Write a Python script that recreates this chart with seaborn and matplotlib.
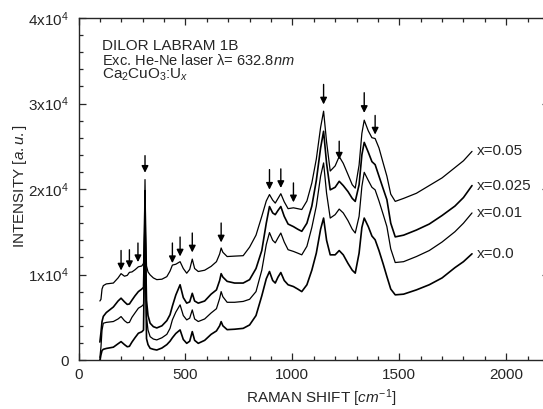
import numpy as np
import pandas as pd
import matplotlib
matplotlib.use("Agg")
import matplotlib.pyplot as plt
from matplotlib.ticker import MultipleLocator
import seaborn as sns

# Raman shift grid [cm^-1] and intensities
shift = [100, 105, 110, 116, 130, 163, 185, 199, 215, 228,
         238, 250, 264, 280, 296, 304, 308, 311, 314, 318,
         325, 335, 350, 366, 390, 413, 428, 439, 455, 475,
         490, 506, 520, 532, 543, 560, 590, 620, 645, 660,
         667, 675, 695, 730, 770, 800, 830, 857, 878, 893,
         908, 920, 933, 946, 962, 980, 1005, 1025, 1044, 1068,
         1091, 1112, 1132, 1146, 1160, 1177, 1200, 1219, 1238, 1260,
         1280, 1294, 1312, 1325, 1336, 1355, 1372, 1387, 1405, 1425,
         1442, 1460, 1481, 1520, 1580, 1640, 1700, 1760, 1800, 1840]

x005 = [6900, 7100, 8300, 8700, 8900, 9000, 9600, 10100, 9800, 9900,
        10250, 10300, 10550, 10900, 11000, 11300, 15000, 21100, 15000, 11000,
        10300, 9950, 9600, 9400, 9450, 9750, 10400, 11100, 11200, 11500,
        10700, 10150, 10600, 11800, 10700, 10350, 10500, 10950, 11500, 12400,
        13100, 12600, 12100, 12150, 12200, 13200, 14600, 16800, 18600, 19350,
        18700, 18350, 18900, 19450, 18500, 17700, 17800, 17700, 17600, 18600,
        20700, 23500, 27200, 29100, 25500, 22100, 22700, 23800, 23000, 21700,
        20500, 20100, 22800, 26500, 28050, 26800, 26000, 25900, 24800, 23000,
        21500, 19400, 18550, 18900, 19500, 20400, 21300, 22500, 23300, 24400]

x0025 = [2100, 3200, 4500, 5100, 5550, 6200, 6900, 7230, 6800, 6500,
         6550, 7000, 7500, 8000, 8300, 8500, 13000, 19800, 12000, 7000,
         5200, 4300, 3900, 3750, 4000, 4600, 5300, 6300, 7600, 8800,
         7300, 6650, 6800, 7800, 6900, 6650, 6900, 7700, 8200, 9300,
         10100, 9700, 9200, 9000, 9000, 9400, 10700, 12800, 16000, 17950,
         17200, 17000, 17500, 17950, 16800, 15900, 15600, 15300, 15050, 16000,
         18000, 21000, 24800, 26750, 23000, 19900, 20200, 20900, 20400, 19700,
         18900, 18550, 20500, 24000, 25450, 24300, 23200, 22850, 21500, 20000,
         18750, 16000, 14400, 14600, 15200, 15900, 16900, 18000, 19000, 20400]

x001 = [300, 1500, 3500, 4300, 4400, 4500, 4800, 5080, 4600, 4350,
        4400, 5000, 5500, 6060, 6300, 6500, 12000, 18800, 11000, 5000,
        3500, 2730, 2450, 2350, 2600, 3000, 3700, 4700, 5600, 6450,
        5200, 4690, 4900, 5860, 4800, 4500, 4800, 5500, 6000, 7200,
        8000, 7400, 6750, 6750, 6850, 7100, 8000, 10500, 13500, 14900,
        14000, 13700, 14300, 14850, 13800, 12900, 12700, 12500, 12300, 13300,
        15500, 18000, 21500, 23050, 19500, 16600, 17000, 17650, 17200, 16300,
        15300, 14850, 16800, 20300, 21950, 21000, 20200, 19900, 18600, 17000,
        15600, 13000, 11400, 11500, 12100, 12800, 13800, 15000, 16000, 17200]

x000 = [0, 600, 1100, 1250, 1350, 1500, 1900, 2150, 1800, 1550,
        1600, 2100, 2600, 3130, 3300, 3500, 11000, 17800, 10000, 2500,
        1800, 1370, 1250, 1170, 1400, 1800, 2200, 2600, 3100, 3520,
        2400, 1950, 2200, 3320, 2300, 1950, 2300, 3000, 3400, 4000,
        4490, 4000, 3550, 3600, 3700, 4100, 5200, 7500, 9500, 10350,
        9300, 9000, 9700, 10230, 9300, 8800, 8590, 8300, 8000, 8800,
        10500, 12500, 15300, 16600, 14000, 12300, 12300, 12800, 12300, 11300,
        10500, 10160, 12500, 15500, 16600, 15600, 14500, 14060, 12800, 11200,
        9760, 8300, 7620, 7700, 8200, 8800, 9600, 10800, 11500, 12420]

series = {"x=0.05": x005, "x=0.025": x0025, "x=0.01": x001, "x=0.0": x000}

# peak markers: position, arrow tip, arrow tail
arrow_pos = [199, 238, 278, 311, 439, 475, 532, 667, 893, 946, 1005, 1146, 1219, 1336, 1387]
arrow_tip = [10470, 10750, 11450, 21900, 11330, 12110, 12580, 13750, 19920, 20120, 18440,
             29890, 23440, 28900, 26370]
arrow_tail = [12810, 12890, 13680, 23900, 13680, 14380, 14850, 16020, 22270, 22350, 20710,
              32230, 25590, 31260, 28600]

sns.set_style("ticks")
plt.rcParams["font.family"] = ["Liberation Sans", "DejaVu Sans"]
plt.rcParams["mathtext.fontset"] = "custom"
plt.rcParams["mathtext.rm"] = "Liberation Sans"
plt.rcParams["mathtext.it"] = "Liberation Sans:italic"
fs = 11

fig = plt.figure(figsize=(5.43, 4.09), dpi=100)
ax = fig.add_axes([78.5 / 543, 1 - 360 / 409, (549 - 78.5) / 543, (360 - 18) / 409])

for name, vals in series.items():
    lw = 1.2 if name in ("x=0.025", "x=0.0") else 0.9
    sns.lineplot(x=shift, y=vals, color="black", lw=lw, ax=ax, estimator=None, sort=False)
    ax.text(shift[-1] + 22, vals[-1], name, ha="left", va="center", fontsize=fs)

for p, t, h in zip(arrow_pos, arrow_tip, arrow_tail):
    ax.annotate("", xy=(p, t), xytext=(p, h),
                arrowprops=dict(arrowstyle="-|>", color="black", lw=1.0,
                                mutation_scale=10, shrinkA=0, shrinkB=0))

ax.set_xlim(0, 2200)
ax.set_ylim(0, 40000)
ax.xaxis.set_major_locator(MultipleLocator(500))
ax.xaxis.set_minor_locator(MultipleLocator(100))
ax.set_yticks([0, 10000, 20000, 30000, 40000])
ax.set_yticklabels(["0", "1x10$^4$", "2x10$^4$", "3x10$^4$", "4x10$^4$"])
ax.yaxis.set_minor_locator(MultipleLocator(2000))
ax.tick_params(which="both", direction="in", top=True, right=True, width=0.9, labelsize=fs)
ax.tick_params(which="major", length=5)
ax.tick_params(which="minor", length=3)
ax.tick_params(axis="y", which="major", pad=7)
ax.tick_params(axis="x", which="major", pad=6)
for s in ax.spines.values():
    s.set_linewidth(1.0)
    s.set_visible(True)

ax.set_xlabel("RAMAN SHIFT [$cm^{-1}$]", fontsize=fs)
ax.set_ylabel("INTENSITY [$a.u.$]", fontsize=fs)
ax.xaxis.set_label_coords(0.515, -0.079)
ax.yaxis.set_label_coords(-0.105, 0.509)

ax.text(0.049, 0.9064, "DILOR LABRAM 1B", transform=ax.transAxes, va="baseline", fontsize=fs)
ax.text(0.049, 0.8626, "Exc. He-Ne laser \u03bb= 632.8$nm$", transform=ax.transAxes,
        va="baseline", fontsize=10.5)
ax.text(0.049, 0.8216, "Ca$_2$CuO$_3$:U$_x$", transform=ax.transAxes, va="baseline", fontsize=fs)

fig.savefig("out.png", dpi=100)
